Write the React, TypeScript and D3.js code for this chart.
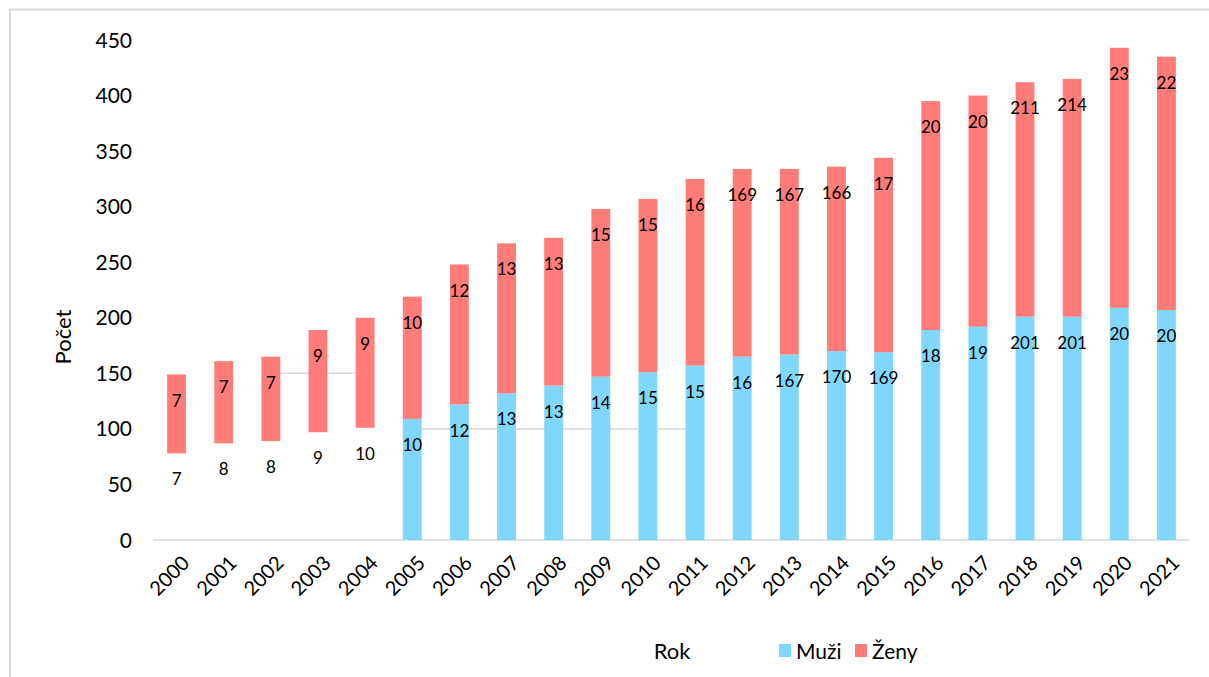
import { useEffect, useRef } from 'react'
import * as d3 from 'd3'

const years = ['2000', '2001', '2002', '2003', '2004', '2005', '2006', '2007', '2008', '2009', '2010',
  '2011', '2012', '2013', '2014', '2015', '2016', '2017', '2018', '2019', '2020', '2021']

// Muži / Ženy counts
const muzi = [78, 87, 89, 97, 101, 109, 122, 132, 139, 147, 151, 157, 165, 167, 170, 169, 189, 192, 201, 201, 209, 207]
const zeny = [71, 74, 76, 92, 99, 110, 126, 135, 133, 151, 156, 168, 169, 167, 166, 175, 206, 208, 211, 214, 234, 228]

// data labels as they show in the original (many are cut off)
const muziLabels = ['7', '8', '8', '9', '10', '10', '12', '13', '13', '14', '15', '15', '16', '167', '170', '169', '18', '19', '201', '201', '20', '20']
const zenyLabels = ['7', '7', '7', '9', '9', '10', '12', '13', '13', '15', '15', '16', '169', '167', '166', '17', '20', '20', '211', '214', '23', '22']

const yTicks = [0, 50, 100, 150, 200, 250, 300, 350, 400, 450]

// pieces of gridline that are visible in the source
const gridPieces = [
  { value: 150, from: '2002', to: '2004' },
  { value: 100, from: '2005', to: '2011' },
]

// male bars before this year are not drawn in the source
const firstMaleBar = '2005'

const BLUE = '#80d7fc'
const RED = '#ff7c78'
const GRID = '#d9d9d9'
const FONT = 'Lato, "Open Sans", sans-serif'
const INK = '#000'

export default function App() {
  const svgRef = useRef<SVGSVGElement>(null)

  useEffect(() => {
    if (!svgRef.current) return
    const svg = d3.select(svgRef.current)
    svg.selectAll('*').remove()

    const x = d3.scaleBand<string>()
      .domain(years)
      .range([153, 1190])
      .paddingInner(0.6)
      .paddingOuter(0.3)
    const y = d3.scaleLinear().domain([0, 450]).range([540, 40])
    const bw = x.bandwidth()

    // frame
    svg.append('path')
      .attr('d', 'M10,677 L10,9.5 L1209,9.5')
      .attr('fill', 'none')
      .attr('stroke', GRID)
      .attr('stroke-width', 2)

    // partial gridlines
    svg.append('g').selectAll('line')
      .data(gridPieces)
      .enter()
      .append('line')
      .attr('x1', (d) => x(d.from)! + bw)
      .attr('x2', (d) => x(d.to)!)
      .attr('y1', (d) => y(d.value))
      .attr('y2', (d) => y(d.value))
      .attr('stroke', GRID)
      .attr('stroke-width', 1.5)

    // baseline
    svg.append('line')
      .attr('x1', x.range()[0])
      .attr('x2', x.range()[1])
      .attr('y1', y(0))
      .attr('y2', y(0))
      .attr('stroke', GRID)
      .attr('stroke-width', 1.5)

    // y tick labels
    svg.append('g').selectAll('text')
      .data(yTicks)
      .enter()
      .append('text')
      .attr('x', 132)
      .attr('y', (d) => y(d))
      .attr('dy', '0.36em')
      .attr('text-anchor', 'end')
      .attr('font-family', FONT)
      .attr('font-size', 21)
      .attr('fill', INK)
      .text((d) => d)

    const rows = years.map((yr, i) => ({
      yr, m: muzi[i], z: zeny[i], ml: muziLabels[i], zl: zenyLabels[i],
    }))

    // bars
    const bars = svg.append('g')
    bars.selectAll('rect.m')
      .data(rows)
      .enter()
      .append('rect')
      .attr('class', 'm')
      .attr('x', (d) => x(d.yr)!)
      .attr('width', bw)
      .attr('y', (d) => y(d.m))
      .attr('height', (d) => y(0) - y(d.m))
      .attr('fill', (d) => (d.yr >= firstMaleBar ? BLUE : 'none'))
    bars.selectAll('rect.z')
      .data(rows)
      .enter()
      .append('rect')
      .attr('class', 'z')
      .attr('x', (d) => x(d.yr)!)
      .attr('width', bw)
      .attr('y', (d) => y(d.m + d.z))
      .attr('height', (d) => y(d.m) - y(d.m + d.z))
      .attr('fill', RED)

    // data labels
    const labels = svg.append('g')
      .attr('font-family', FONT)
      .attr('font-size', 17)
      .attr('fill', INK)
      .attr('text-anchor', 'middle')
    labels.selectAll('text.m')
      .data(rows)
      .enter()
      .append('text')
      .attr('x', (d) => x(d.yr)! + bw / 2)
      .attr('y', (d) => y(d.m) + 26)
      .attr('dy', '0.36em')
      .text((d) => d.ml)
    labels.selectAll('text.z')
      .data(rows)
      .enter()
      .append('text')
      .attr('x', (d) => x(d.yr)! + bw / 2)
      .attr('y', (d) => y(d.m + d.z) + 26)
      .attr('dy', '0.36em')
      .text((d) => d.zl)

    // x tick labels, rotated
    svg.append('g').selectAll('text')
      .data(years)
      .enter()
      .append('text')
      .attr('transform', (d) => `translate(${x(d)! + bw / 2 + 4}, 554) rotate(-45)`)
      .attr('text-anchor', 'end')
      .attr('dy', '0.72em')
      .attr('font-family', FONT)
      .attr('font-size', 20)
      .attr('fill', INK)
      .text((d) => d)

    // axis titles
    svg.append('text')
      .attr('transform', 'translate(63, 337) rotate(-90)')
      .attr('text-anchor', 'middle')
      .attr('dy', '0.36em')
      .attr('font-family', FONT)
      .attr('font-size', 22)
      .attr('fill', INK)
      .text('Počet')

    svg.append('text')
      .attr('x', 672)
      .attr('y', 651)
      .attr('dy', '0.36em')
      .attr('text-anchor', 'middle')
      .attr('font-family', FONT)
      .attr('font-size', 22)
      .attr('fill', INK)
      .text('Rok')

    // legend
    const legend = [
      { name: 'Muži', color: BLUE, x: 779 },
      { name: 'Ženy', color: RED, x: 855 },
    ]
    const lg = svg.append('g').selectAll('g')
      .data(legend)
      .enter()
      .append('g')
      .attr('transform', (d) => `translate(${d.x}, 644)`)
    lg.append('rect').attr('width', 12).attr('height', 13).attr('fill', (d) => d.color)
    lg.append('text')
      .attr('x', 17)
      .attr('y', 7)
      .attr('dy', '0.36em')
      .attr('font-family', FONT)
      .attr('font-size', 21)
      .attr('fill', INK)
      .text((d) => d.name)
  }, [])

  return (
    <svg
      ref={svgRef}
      width={1209}
      height={677}
      style={{ position: 'absolute', left: 0, top: 0, background: '#fff', display: 'block' }}
    />
  )
}
